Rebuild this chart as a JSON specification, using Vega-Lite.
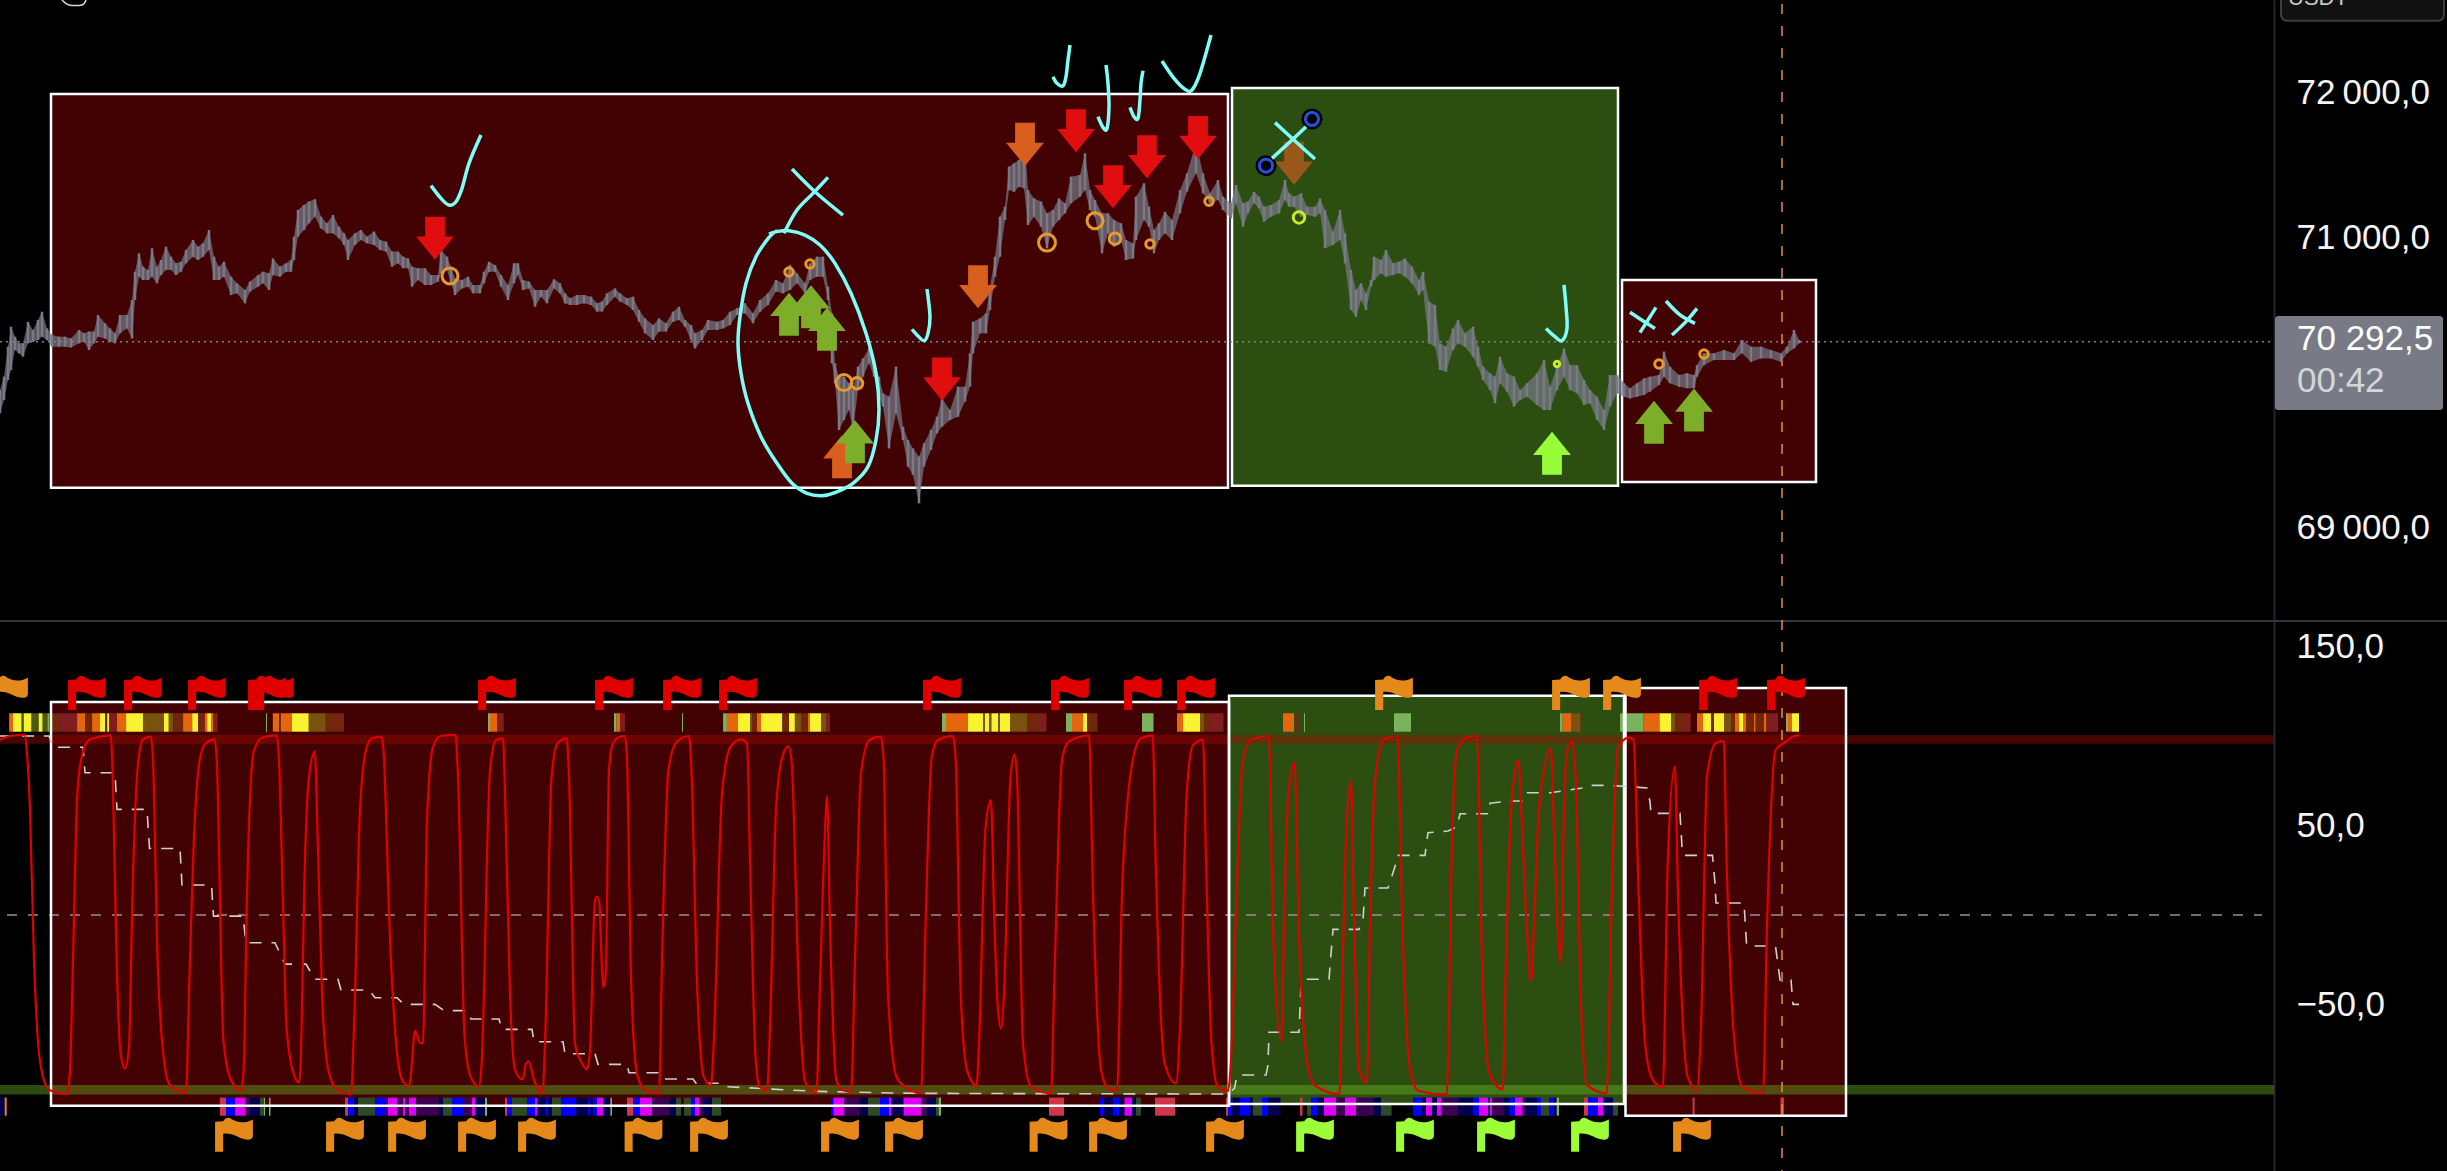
{
"$schema":"https://vega.github.io/schema/vega-lite/v6.json",
"background":"#000000","padding":{"left":-5,"top":0,"right":0,"bottom":0},"spacing":0,"bounds":"flush",
"config":{"view":{"stroke":null}},
"datasets":{
"boxesTop":[{"t":51,"t2":1228,"v":71989,"v2":69273,"k":"bear"},{"t":1232,"t2":1618,"v":72031,"v2":69287,"k":"bull"},{"t":1622,"t2":1816,"v":70706,"v2":69312,"k":"bear"}],
"lastPrice":[{"t":0,"t2":2274,"v":70280}],
"cursorTop":[{"t":1782,"v":72610,"v2":68360}],
"price":[{"t":0,"v":69786,"h":69947},{"t":4,"v":69878,"h":70039},{"t":8,"v":70016,"h":70246},{"t":11,"v":70085,"h":70384},{"t":15,"v":70223,"h":70315},{"t":19,"v":70200,"h":70269},{"t":23,"v":70177,"h":70269},{"t":28,"v":70269,"h":70418},{"t":33,"v":70280,"h":70361},{"t":38,"v":70292,"h":70430},{"t":42,"v":70315,"h":70487},{"t":47,"v":70292,"h":70372},{"t":52,"v":70246,"h":70327},{"t":59,"v":70246,"h":70315},{"t":65,"v":70246,"h":70315},{"t":71,"v":70241,"h":70303},{"t":79,"v":70269,"h":70361},{"t":84,"v":70280,"h":70338},{"t":89,"v":70223,"h":70350},{"t":94,"v":70269,"h":70350},{"t":98,"v":70315,"h":70464},{"t":105,"v":70303,"h":70407},{"t":110,"v":70280,"h":70372},{"t":115,"v":70269,"h":70338},{"t":120,"v":70338,"h":70464},{"t":127,"v":70372,"h":70464},{"t":132,"v":70303,"h":70568},{"t":135,"v":70568,"h":70763},{"t":139,"v":70729,"h":70890},{"t":143,"v":70706,"h":70798},{"t":148,"v":70706,"h":70775},{"t":152,"v":70729,"h":70925},{"t":157,"v":70683,"h":70798},{"t":161,"v":70740,"h":70844},{"t":166,"v":70775,"h":70936},{"t":171,"v":70775,"h":70867},{"t":176,"v":70740,"h":70821},{"t":181,"v":70763,"h":70832},{"t":186,"v":70821,"h":70913},{"t":193,"v":70867,"h":70982},{"t":198,"v":70844,"h":70936},{"t":203,"v":70867,"h":70959},{"t":209,"v":70913,"h":71051},{"t":214,"v":70706,"h":70867},{"t":219,"v":70706,"h":70798},{"t":224,"v":70729,"h":70832},{"t":231,"v":70602,"h":70729},{"t":237,"v":70614,"h":70683},{"t":245,"v":70545,"h":70637},{"t":250,"v":70626,"h":70695},{"t":258,"v":70660,"h":70740},{"t":263,"v":70683,"h":70763},{"t":269,"v":70637,"h":70752},{"t":273,"v":70740,"h":70855},{"t":280,"v":70729,"h":70798},{"t":286,"v":70763,"h":70821},{"t":291,"v":70763,"h":70844},{"t":294,"v":70844,"h":71005},{"t":298,"v":71005,"h":71189},{"t":304,"v":71051,"h":71224},{"t":309,"v":71097,"h":71247},{"t":315,"v":71143,"h":71263},{"t":321,"v":71062,"h":71143},{"t":327,"v":71028,"h":71097},{"t":333,"v":71028,"h":71154},{"t":339,"v":70994,"h":71074},{"t":344,"v":70948,"h":71028},{"t":348,"v":70844,"h":70982},{"t":355,"v":70948,"h":71028},{"t":361,"v":70982,"h":71051},{"t":367,"v":70959,"h":71005},{"t":374,"v":70948,"h":71040},{"t":380,"v":70913,"h":70982},{"t":386,"v":70902,"h":70971},{"t":392,"v":70798,"h":70902},{"t":398,"v":70821,"h":70902},{"t":403,"v":70787,"h":70867},{"t":408,"v":70787,"h":70855},{"t":412,"v":70660,"h":70798},{"t":418,"v":70706,"h":70787},{"t":425,"v":70671,"h":70787},{"t":431,"v":70671,"h":70740},{"t":438,"v":70694,"h":70740},{"t":441,"v":70752,"h":70913},{"t":447,"v":70775,"h":70867},{"t":451,"v":70683,"h":70798},{"t":455,"v":70602,"h":70717},{"t":462,"v":70648,"h":70706},{"t":468,"v":70660,"h":70729},{"t":473,"v":70614,"h":70671},{"t":480,"v":70614,"h":70671},{"t":484,"v":70683,"h":70763},{"t":489,"v":70763,"h":70832},{"t":495,"v":70763,"h":70809},{"t":501,"v":70660,"h":70740},{"t":508,"v":70568,"h":70671},{"t":514,"v":70683,"h":70821},{"t":518,"v":70740,"h":70821},{"t":523,"v":70637,"h":70706},{"t":529,"v":70648,"h":70695},{"t":535,"v":70522,"h":70637},{"t":541,"v":70591,"h":70637},{"t":547,"v":70545,"h":70637},{"t":554,"v":70648,"h":70711},{"t":560,"v":70614,"h":70683},{"t":565,"v":70545,"h":70614},{"t":570,"v":70534,"h":70580},{"t":577,"v":70534,"h":70602},{"t":584,"v":70545,"h":70602},{"t":591,"v":70534,"h":70591},{"t":597,"v":70488,"h":70545},{"t":602,"v":70488,"h":70557},{"t":607,"v":70534,"h":70614},{"t":615,"v":70591,"h":70648},{"t":620,"v":70557,"h":70614},{"t":627,"v":70534,"h":70580},{"t":633,"v":70499,"h":70591},{"t":639,"v":70418,"h":70499},{"t":645,"v":70338,"h":70441},{"t":653,"v":70292,"h":70395},{"t":659,"v":70350,"h":70441},{"t":666,"v":70350,"h":70407},{"t":673,"v":70418,"h":70487},{"t":679,"v":70430,"h":70522},{"t":685,"v":70384,"h":70430},{"t":691,"v":70292,"h":70395},{"t":695,"v":70234,"h":70338},{"t":702,"v":70292,"h":70361},{"t":708,"v":70361,"h":70430},{"t":717,"v":70361,"h":70418},{"t":723,"v":70372,"h":70430},{"t":730,"v":70395,"h":70487},{"t":737,"v":70464,"h":70510},{"t":745,"v":70476,"h":70545},{"t":753,"v":70407,"h":70476},{"t":760,"v":70487,"h":70568},{"t":768,"v":70534,"h":70614},{"t":776,"v":70626,"h":70706},{"t":783,"v":70614,"h":70683},{"t":790,"v":70637,"h":70810},{"t":797,"v":70683,"h":70752},{"t":805,"v":70614,"h":70683},{"t":810,"v":70706,"h":70821},{"t":817,"v":70729,"h":70867},{"t":823,"v":70729,"h":70867},{"t":828,"v":70568,"h":70660},{"t":832,"v":70131,"h":70476},{"t":835,"v":69993,"h":70131},{"t":839,"v":69671,"h":70039},{"t":844,"v":69740,"h":70039},{"t":849,"v":69809,"h":69993},{"t":853,"v":69671,"h":69947},{"t":858,"v":69947,"h":70108},{"t":863,"v":70039,"h":70165},{"t":869,"v":70131,"h":70234},{"t":874,"v":70039,"h":70154},{"t":879,"v":69901,"h":70039},{"t":883,"v":69832,"h":69924},{"t":889,"v":69544,"h":69901},{"t":896,"v":69786,"h":70108},{"t":903,"v":69602,"h":69694},{"t":908,"v":69418,"h":69602},{"t":913,"v":69361,"h":69544},{"t":919,"v":69165,"h":69487},{"t":924,"v":69418,"h":69579},{"t":931,"v":69533,"h":69671},{"t":937,"v":69648,"h":69763},{"t":942,"v":69694,"h":69889},{"t":950,"v":69740,"h":69809},{"t":958,"v":69763,"h":69970},{"t":965,"v":69867,"h":69970},{"t":970,"v":69970,"h":70200},{"t":973,"v":70200,"h":70418},{"t":980,"v":70338,"h":70441},{"t":986,"v":70338,"h":70476},{"t":990,"v":70499,"h":70660},{"t":995,"v":70729,"h":70867},{"t":1000,"v":70867,"h":71143},{"t":1005,"v":71120,"h":71212},{"t":1009,"v":71327,"h":71488},{"t":1014,"v":71315,"h":71511},{"t":1019,"v":71350,"h":71534},{"t":1024,"v":71339,"h":71741},{"t":1028,"v":71085,"h":71327},{"t":1034,"v":71143,"h":71269},{"t":1041,"v":71074,"h":71247},{"t":1047,"v":70925,"h":71166},{"t":1053,"v":71074,"h":71189},{"t":1059,"v":71120,"h":71269},{"t":1065,"v":71166,"h":71235},{"t":1071,"v":71235,"h":71419},{"t":1080,"v":71281,"h":71430},{"t":1085,"v":71327,"h":71580},{"t":1090,"v":71189,"h":71327},{"t":1095,"v":71143,"h":71258},{"t":1102,"v":70890,"h":71166},{"t":1108,"v":71028,"h":71166},{"t":1114,"v":70936,"h":71120},{"t":1121,"v":70982,"h":71097},{"t":1126,"v":70844,"h":70982},{"t":1133,"v":70855,"h":70959},{"t":1136,"v":70982,"h":71281},{"t":1144,"v":71120,"h":71373},{"t":1149,"v":71074,"h":71212},{"t":1154,"v":70890,"h":71051},{"t":1159,"v":70982,"h":71097},{"t":1165,"v":71028,"h":71177},{"t":1172,"v":70982,"h":71120},{"t":1180,"v":71166,"h":71327},{"t":1187,"v":71315,"h":71442},{"t":1196,"v":71442,"h":71649},{"t":1203,"v":71304,"h":71442},{"t":1210,"v":71235,"h":71304},{"t":1218,"v":71258,"h":71396},{"t":1223,"v":71189,"h":71281},{"t":1231,"v":71131,"h":71235},{"t":1236,"v":71235,"h":71361},{"t":1243,"v":71074,"h":71235},{"t":1248,"v":71166,"h":71247},{"t":1254,"v":71235,"h":71315},{"t":1259,"v":71200,"h":71281},{"t":1264,"v":71108,"h":71212},{"t":1271,"v":71143,"h":71224},{"t":1279,"v":71166,"h":71258},{"t":1285,"v":71258,"h":71396},{"t":1289,"v":71212,"h":71304},{"t":1294,"v":71212,"h":71281},{"t":1301,"v":71143,"h":71304},{"t":1307,"v":71155,"h":71212},{"t":1315,"v":71143,"h":71212},{"t":1320,"v":71166,"h":71269},{"t":1325,"v":70925,"h":71189},{"t":1333,"v":70948,"h":71040},{"t":1340,"v":70982,"h":71189},{"t":1345,"v":70821,"h":71028},{"t":1351,"v":70499,"h":70775},{"t":1356,"v":70453,"h":70637},{"t":1361,"v":70568,"h":70683},{"t":1366,"v":70499,"h":70614},{"t":1371,"v":70660,"h":70706},{"t":1374,"v":70706,"h":70867},{"t":1381,"v":70752,"h":70844},{"t":1386,"v":70729,"h":70913},{"t":1393,"v":70740,"h":70821},{"t":1399,"v":70752,"h":70832},{"t":1405,"v":70729,"h":70855},{"t":1412,"v":70683,"h":70798},{"t":1419,"v":70602,"h":70706},{"t":1423,"v":70637,"h":70763},{"t":1429,"v":70269,"h":70556},{"t":1435,"v":70246,"h":70534},{"t":1440,"v":70085,"h":70269},{"t":1446,"v":70074,"h":70246},{"t":1453,"v":70223,"h":70372},{"t":1458,"v":70269,"h":70430},{"t":1465,"v":70246,"h":70338},{"t":1473,"v":70177,"h":70384},{"t":1478,"v":70108,"h":70246},{"t":1483,"v":70016,"h":70108},{"t":1490,"v":69947,"h":70062},{"t":1495,"v":69855,"h":70039},{"t":1500,"v":69993,"h":70177},{"t":1507,"v":69936,"h":70062},{"t":1514,"v":69832,"h":70039},{"t":1520,"v":69878,"h":69947},{"t":1527,"v":69901,"h":69993},{"t":1537,"v":69844,"h":70062},{"t":1544,"v":69809,"h":70154},{"t":1550,"v":69809,"h":69970},{"t":1557,"v":69947,"h":70108},{"t":1564,"v":70039,"h":70234},{"t":1570,"v":69947,"h":70119},{"t":1577,"v":69924,"h":70119},{"t":1584,"v":69844,"h":70016},{"t":1590,"v":69855,"h":69947},{"t":1597,"v":69740,"h":69901},{"t":1604,"v":69671,"h":69809},{"t":1610,"v":69832,"h":70050},{"t":1617,"v":69924,"h":70050},{"t":1624,"v":69901,"h":69993},{"t":1630,"v":69889,"h":69959},{"t":1637,"v":69901,"h":69993},{"t":1644,"v":69913,"h":70027},{"t":1650,"v":69936,"h":70039},{"t":1659,"v":69982,"h":70050},{"t":1664,"v":70039,"h":70212},{"t":1670,"v":69993,"h":70108},{"t":1679,"v":69970,"h":70050},{"t":1687,"v":69959,"h":70062},{"t":1694,"v":69959,"h":70050},{"t":1697,"v":70039,"h":70119},{"t":1704,"v":70119,"h":70200},{"t":1714,"v":70154,"h":70200},{"t":1724,"v":70154,"h":70223},{"t":1734,"v":70154,"h":70200},{"t":1742,"v":70200,"h":70292},{"t":1751,"v":70142,"h":70246},{"t":1761,"v":70165,"h":70246},{"t":1771,"v":70165,"h":70223},{"t":1781,"v":70142,"h":70200},{"t":1787,"v":70200,"h":70246},{"t":1794,"v":70234,"h":70361},{"t":1799,"v":70269,"h":70292}],
"arrows":[{"t":435,"v":70994,"d":"down","k":"sell"},{"t":1025,"v":71642,"d":"down","k":"weak"},{"t":978,"v":70660,"d":"down","k":"weak"},{"t":1076,"v":71736,"d":"down","k":"sell"},{"t":1113,"v":71350,"d":"down","k":"sell"},{"t":1147,"v":71557,"d":"down","k":"sell"},{"t":1198,"v":71690,"d":"down","k":"sell"},{"t":942,"v":70023,"d":"down","k":"sell"},{"t":1294,"v":71511,"d":"down","k":"brown"},{"t":789,"v":70469,"d":"up","k":"buy"},{"t":811,"v":70522,"d":"up","k":"buy"},{"t":827,"v":70366,"d":"up","k":"buy"},{"t":842,"v":69487,"d":"up","k":"weak"},{"t":855,"v":69590,"d":"up","k":"buy"},{"t":1552,"v":69510,"d":"up","k":"strong"},{"t":1654,"v":69724,"d":"up","k":"buy"},{"t":1694,"v":69809,"d":"up","k":"buy"}],
"rings":[{"t":450,"v":70734,"r":"l","k":"o"},{"t":789,"v":70761,"r":"s","k":"o"},{"t":810,"v":70816,"r":"s","k":"o"},{"t":844,"v":69998,"r":"l","k":"o"},{"t":857,"v":69993,"r":"m","k":"o"},{"t":1047,"v":70964,"r":"xl","k":"o"},{"t":1095,"v":71115,"r":"l","k":"o"},{"t":1115,"v":70991,"r":"m","k":"o"},{"t":1150,"v":70954,"r":"s","k":"o"},{"t":1209,"v":71249,"r":"s","k":"o"},{"t":1299,"v":71138,"r":"m","k":"y"},{"t":1557,"v":70126,"r":"xs","k":"y"},{"t":1659,"v":70126,"r":"s","k":"o"},{"t":1704,"v":70195,"r":"s","k":"o"}],
"blueDots":[{"t":1266,"v":71495},{"t":1312,"v":71817}],
"ink":[
{"s":"a","i":0,"t":431,"v":71357},{"s":"a","i":1,"t":441,"v":71269},{"s":"a","i":2,"t":449,"v":71223},{"s":"a","i":3,"t":456,"v":71246},{"s":"a","i":4,"t":462,"v":71338},{"s":"a","i":5,"t":469,"v":71511},{"s":"a","i":6,"t":481,"v":71706},
{"s":"e","i":0,"t":769,"v":71023},{"s":"e","i":1,"t":777,"v":71040},{"s":"e","i":2,"t":789,"v":71046},{"s":"e","i":3,"t":805,"v":71016},{"s":"e","i":4,"t":820,"v":70947},{"s":"e","i":5,"t":835,"v":70821},{"s":"e","i":6,"t":851,"v":70614},{"s":"e","i":7,"t":866,"v":70338},{"s":"e","i":8,"t":876,"v":70062},{"s":"e","i":9,"t":879,"v":69809},{"s":"e","i":10,"t":876,"v":69602},{"s":"e","i":11,"t":868,"v":69418},{"s":"e","i":12,"t":853,"v":69303},{"s":"e","i":13,"t":835,"v":69239},{"s":"e","i":14,"t":822,"v":69218},{"s":"e","i":15,"t":807,"v":69234},{"s":"e","i":16,"t":792,"v":69303},{"s":"e","i":17,"t":777,"v":69441},{"s":"e","i":18,"t":761,"v":69625},{"s":"e","i":19,"t":748,"v":69855},{"s":"e","i":20,"t":741,"v":70062},{"s":"e","i":21,"t":738,"v":70269},{"s":"e","i":22,"t":740,"v":70453},{"s":"e","i":23,"t":746,"v":70683},{"s":"e","i":24,"t":756,"v":70867},{"s":"e","i":25,"t":769,"v":71000},{"s":"e","i":26,"t":777,"v":71046},
{"s":"x1","i":0,"t":792,"v":71472},{"s":"x1","i":1,"t":815,"v":71315},{"s":"x1","i":2,"t":843,"v":71154},
{"s":"x2","i":0,"t":828,"v":71414},{"s":"x2","i":1,"t":813,"v":71304},{"s":"x2","i":2,"t":797,"v":71189},{"s":"x2","i":3,"t":784,"v":71028},
{"s":"j1","i":0,"t":912,"v":70366},{"s":"j1","i":1,"t":917,"v":70327},{"s":"j1","i":2,"t":924,"v":70287},{"s":"j1","i":3,"t":928,"v":70338},{"s":"j1","i":4,"t":930,"v":70453},{"s":"j1","i":5,"t":927,"v":70644},
{"s":"j2","i":0,"t":1053,"v":72109},{"s":"j2","i":1,"t":1057,"v":72063},{"s":"j2","i":2,"t":1063,"v":72045},{"s":"j2","i":3,"t":1066,"v":72109},{"s":"j2","i":4,"t":1068,"v":72224},{"s":"j2","i":5,"t":1070,"v":72327},
{"s":"j3","i":0,"t":1098,"v":71833},{"s":"j3","i":1,"t":1103,"v":71759},{"s":"j3","i":2,"t":1107,"v":71752},{"s":"j3","i":3,"t":1109,"v":71902},{"s":"j3","i":4,"t":1108,"v":72063},{"s":"j3","i":5,"t":1106,"v":72189},
{"s":"j4","i":0,"t":1130,"v":71897},{"s":"j4","i":1,"t":1134,"v":71833},{"s":"j4","i":2,"t":1138,"v":71821},{"s":"j4","i":3,"t":1140,"v":71948},{"s":"j4","i":4,"t":1141,"v":72063},{"s":"j4","i":5,"t":1143,"v":72150},
{"s":"v","i":0,"t":1162,"v":72217},{"s":"v","i":1,"t":1174,"v":72097},{"s":"v","i":2,"t":1185,"v":72022},{"s":"v","i":3,"t":1192,"v":72017},{"s":"v","i":4,"t":1200,"v":72132},{"s":"v","i":5,"t":1211,"v":72396},
{"s":"x3","i":0,"t":1275,"v":71792},{"s":"x3","i":1,"t":1294,"v":71672},{"s":"x3","i":2,"t":1315,"v":71541},
{"s":"x4","i":0,"t":1306,"v":71764},{"s":"x4","i":1,"t":1292,"v":71672},{"s":"x4","i":2,"t":1272,"v":71545},
{"s":"j5","i":0,"t":1546,"v":70372},{"s":"j5","i":1,"t":1555,"v":70315},{"s":"j5","i":2,"t":1562,"v":70287},{"s":"j5","i":3,"t":1567,"v":70372},{"s":"j5","i":4,"t":1566,"v":70522},{"s":"j5","i":5,"t":1564,"v":70672},
{"s":"x5","i":0,"t":1630,"v":70483},{"s":"x5","i":1,"t":1644,"v":70419},{"s":"x5","i":2,"t":1655,"v":70372},
{"s":"x6","i":0,"t":1656,"v":70517},{"s":"x6","i":1,"t":1648,"v":70430},{"s":"x6","i":2,"t":1640,"v":70343},
{"s":"x7","i":0,"t":1666,"v":70561},{"s":"x7","i":1,"t":1680,"v":70465},{"s":"x7","i":2,"t":1695,"v":70407},
{"s":"x8","i":0,"t":1697,"v":70510},{"s":"x8","i":1,"t":1686,"v":70419},{"s":"x8","i":2,"t":1672,"v":70326}],
"curl":[{"i":0,"t":62,"v":72638},{"i":1,"t":69,"v":72604},{"i":2,"t":82,"v":72604},{"i":3,"t":86,"v":72638}],
"priceTag":[{"t":2275,"t2":2443,"v":70458,"v2":69809}],
"usdBox":[{"t":2281,"t2":2444,"v":72680,"v2":72495}],
"usdText":[{"t":2288,"v":72603,"label":"USDT"}],
"tagPrice":[{"t":2297,"v":70299,"label":"70 292,5"}],
"tagTime":[{"t":2297,"v":70009,"label":"00:42"}],
"boxesBot":[{"t":51,"t2":1229,"v":119,"v2":-106.5,"k":"bear"},{"t":1229,"t2":1624,"v":122.5,"v2":-105.6,"k":"bull"},{"t":1625.5,"t2":1846,"v":126.8,"v2":-112.1,"k":"bear"}],
"bands":[{"t":0,"t2":2274,"v":100.6,"v2":95.7,"k":"upper"},{"t":0,"t2":2274,"v":-95,"v2":-100.2,"k":"lower"}],
"midLine":[{"t":7,"t2":2262,"v":0}],
"sepLine":[{"t":0,"t2":2447,"v":164.3}],
"cursorBot":[{"t":1782,"v":164.8,"v2":-145}],
"heatLane":[{"k":"y","v":112.7,"v2":102.4},{"k":"o","v":112.7,"v2":102.4},{"k":"u","v":112.7,"v2":102.4},{"k":"b","v":112.7,"v2":102.4},{"k":"c","v":112.7,"v2":102.4},{"k":"l","v":112.7,"v2":102.4},{"k":"g","v":112.7,"v2":102.4}],
"flowLane":[{"k":"b","v":-102,"v2":-112.1},{"k":"m","v":-102,"v2":-112.1},{"k":"p","v":-102,"v2":-112.1},{"k":"n","v":-102,"v2":-112.1},{"k":"d","v":-102,"v2":-112.1},{"k":"r","v":-102,"v2":-112.1},{"k":"g","v":-102,"v2":-112.1},{"k":"o","v":-102,"v2":-112.1}],
"heat":[{"t":9.1,"t2":13,"k":"o"},{"t":13,"t2":21.7,"k":"y"},{"t":21.7,"t2":23.7,"k":"l"},{"t":23.7,"t2":31.6,"k":"y"},{"t":31.6,"t2":38.7,"k":"l"},{"t":38.7,"t2":42.7,"k":"y"},{"t":42.7,"t2":47.4,"k":"l"},{"t":47.4,"t2":49.4,"k":"g"},{"t":49.4,"t2":60.1,"k":"b"},{"t":60.1,"t2":77.1,"k":"c"},{"t":77.1,"t2":85,"k":"o"},{"t":85,"t2":92.1,"k":"b"},{"t":92.1,"t2":100,"k":"o"},{"t":100,"t2":105.2,"k":"y"},{"t":105.2,"t2":107.2,"k":"b"},{"t":107.2,"t2":109.1,"k":"y"},{"t":109.1,"t2":117,"k":"c"},{"t":117,"t2":126.1,"k":"o"},{"t":126.1,"t2":143.1,"k":"y"},{"t":143.1,"t2":164,"k":"u"},{"t":164,"t2":168.8,"k":"y"},{"t":168.8,"t2":173.2,"k":"u"},{"t":173.2,"t2":183.1,"k":"b"},{"t":183.1,"t2":192.2,"k":"o"},{"t":192.2,"t2":198.1,"k":"y"},{"t":198.1,"t2":204.8,"k":"b"},{"t":204.8,"t2":207.2,"k":"o"},{"t":207.2,"t2":211.5,"k":"y"},{"t":211.5,"t2":213.5,"k":"o"},{"t":213.5,"t2":217.5,"k":"c"},{"t":266,"t2":267,"k":"g"},{"t":272.8,"t2":279.2,"k":"o"},{"t":279.2,"t2":281,"k":"b"},{"t":281,"t2":291.8,"k":"o"},{"t":291.8,"t2":308.8,"k":"y"},{"t":308.8,"t2":325.8,"k":"u"},{"t":325.8,"t2":342,"k":"b"},{"t":342,"t2":344,"k":"c"},{"t":488,"t2":490,"k":"g"},{"t":490,"t2":497,"k":"o"},{"t":497,"t2":503.7,"k":"c"},{"t":614,"t2":616.6,"k":"g"},{"t":616.6,"t2":620,"k":"o"},{"t":620,"t2":625,"k":"c"},{"t":682,"t2":683,"k":"g"},{"t":723.1,"t2":726.9,"k":"g"},{"t":726.9,"t2":738,"k":"o"},{"t":738,"t2":750,"k":"y"},{"t":750,"t2":752,"k":"u"},{"t":752,"t2":757,"k":"b"},{"t":757,"t2":761,"k":"o"},{"t":761,"t2":782.4,"k":"y"},{"t":782.4,"t2":789,"k":"b"},{"t":789,"t2":794.9,"k":"y"},{"t":794.9,"t2":801,"k":"u"},{"t":801,"t2":808,"k":"b"},{"t":808,"t2":809.8,"k":"o"},{"t":809.8,"t2":821,"k":"y"},{"t":821,"t2":826,"k":"u"},{"t":826,"t2":830,"k":"c"},{"t":942,"t2":946,"k":"g"},{"t":946,"t2":968,"k":"o"},{"t":968,"t2":983,"k":"y"},{"t":983,"t2":985,"k":"u"},{"t":985,"t2":989.3,"k":"y"},{"t":989.3,"t2":991.4,"k":"u"},{"t":991.4,"t2":998,"k":"y"},{"t":998,"t2":1000,"k":"u"},{"t":1000,"t2":1010,"k":"y"},{"t":1010,"t2":1027,"k":"u"},{"t":1027,"t2":1040,"k":"b"},{"t":1040,"t2":1046.5,"k":"c"},{"t":1066,"t2":1072,"k":"g"},{"t":1072,"t2":1083,"k":"o"},{"t":1083,"t2":1087,"k":"y"},{"t":1087,"t2":1097.5,"k":"b"},{"t":1142,"t2":1153.5,"k":"g"},{"t":1177,"t2":1183,"k":"o"},{"t":1183,"t2":1200,"k":"y"},{"t":1200,"t2":1204.5,"k":"u"},{"t":1204.5,"t2":1210,"k":"b"},{"t":1210,"t2":1223.5,"k":"c"},{"t":1283,"t2":1294,"k":"o"},{"t":1296.7,"t2":1299,"k":"c"},{"t":1304,"t2":1305,"k":"g"},{"t":1394,"t2":1411,"k":"g"},{"t":1560,"t2":1562.5,"k":"g"},{"t":1562.5,"t2":1571,"k":"o"},{"t":1571,"t2":1580.7,"k":"u"},{"t":1580.7,"t2":1582,"k":"c"},{"t":1620,"t2":1643.7,"k":"g"},{"t":1643.7,"t2":1659.5,"k":"o"},{"t":1659.5,"t2":1671,"k":"y"},{"t":1671,"t2":1675,"k":"u"},{"t":1675,"t2":1685,"k":"b"},{"t":1685,"t2":1690.6,"k":"c"},{"t":1697,"t2":1703,"k":"o"},{"t":1703,"t2":1711,"k":"y"},{"t":1711,"t2":1714,"k":"b"},{"t":1714,"t2":1724,"k":"y"},{"t":1724,"t2":1731.6,"k":"u"},{"t":1731.6,"t2":1735,"k":"b"},{"t":1735,"t2":1739,"k":"o"},{"t":1739,"t2":1743,"k":"y"},{"t":1743,"t2":1746,"k":"o"},{"t":1746,"t2":1754,"k":"b"},{"t":1754,"t2":1755.7,"k":"o"},{"t":1755.7,"t2":1764,"k":"b"},{"t":1764,"t2":1766.5,"k":"o"},{"t":1766.5,"t2":1778,"k":"c"},{"t":1786,"t2":1788,"k":"g"},{"t":1788,"t2":1792,"k":"o"},{"t":1792,"t2":1799,"k":"y"}],
"flow":[{"t":0,"t2":4.7,"k":"n"},{"t":4.7,"t2":6.7,"k":"o"},{"t":219.8,"t2":226,"k":"r"},{"t":226,"t2":235,"k":"b"},{"t":235,"t2":245,"k":"m"},{"t":245,"t2":250,"k":"p"},{"t":250,"t2":260,"k":"n"},{"t":260,"t2":264,"k":"d"},{"t":264,"t2":265,"k":"g"},{"t":269,"t2":270.5,"k":"g"},{"t":345,"t2":348,"k":"r"},{"t":348,"t2":354,"k":"b"},{"t":354,"t2":358,"k":"n"},{"t":358,"t2":375,"k":"d"},{"t":375,"t2":386,"k":"b"},{"t":386,"t2":388,"k":"p"},{"t":388,"t2":397,"k":"m"},{"t":397,"t2":403,"k":"p"},{"t":403,"t2":405,"k":"m"},{"t":405,"t2":409,"k":"p"},{"t":409,"t2":416,"k":"m"},{"t":416,"t2":439,"k":"p"},{"t":439,"t2":443,"k":"n"},{"t":443,"t2":452,"k":"d"},{"t":452,"t2":463,"k":"b"},{"t":463,"t2":472,"k":"p"},{"t":472,"t2":475,"k":"m"},{"t":475,"t2":485,"k":"n"},{"t":485,"t2":487,"k":"g"},{"t":505,"t2":507,"k":"r"},{"t":507,"t2":512,"k":"b"},{"t":512,"t2":527,"k":"d"},{"t":527,"t2":535,"k":"b"},{"t":535,"t2":537,"k":"m"},{"t":537,"t2":546,"k":"n"},{"t":546,"t2":548,"k":"b"},{"t":548,"t2":552,"k":"n"},{"t":552,"t2":561,"k":"d"},{"t":561,"t2":576.5,"k":"b"},{"t":576.5,"t2":588,"k":"n"},{"t":588,"t2":590,"k":"b"},{"t":590,"t2":593,"k":"n"},{"t":593,"t2":597,"k":"b"},{"t":597,"t2":603,"k":"m"},{"t":603,"t2":610.4,"k":"n"},{"t":610.4,"t2":612,"k":"g"},{"t":627,"t2":633,"k":"r"},{"t":633,"t2":640,"k":"b"},{"t":640,"t2":652,"k":"m"},{"t":652,"t2":669,"k":"p"},{"t":669,"t2":676,"k":"n"},{"t":676,"t2":681,"k":"d"},{"t":684,"t2":691,"k":"d"},{"t":691,"t2":695,"k":"b"},{"t":695,"t2":699.5,"k":"m"},{"t":699.5,"t2":703,"k":"p"},{"t":703,"t2":712,"k":"n"},{"t":712,"t2":721,"k":"d"},{"t":831,"t2":833.4,"k":"b"},{"t":833.4,"t2":844.6,"k":"m"},{"t":844.6,"t2":859,"k":"p"},{"t":859,"t2":868,"k":"n"},{"t":868,"t2":880,"k":"d"},{"t":880,"t2":889,"k":"b"},{"t":889,"t2":891.5,"k":"m"},{"t":891.5,"t2":903.5,"k":"n"},{"t":903.5,"t2":921,"k":"m"},{"t":921,"t2":927,"k":"p"},{"t":927,"t2":936,"k":"n"},{"t":936,"t2":938.7,"k":"d"},{"t":938.7,"t2":941,"k":"g"},{"t":1049,"t2":1064,"k":"r"},{"t":1100,"t2":1104,"k":"b"},{"t":1104,"t2":1113,"k":"n"},{"t":1113,"t2":1119.5,"k":"b"},{"t":1119.5,"t2":1124.5,"k":"n"},{"t":1124.5,"t2":1132,"k":"m"},{"t":1132,"t2":1136,"k":"n"},{"t":1136,"t2":1141,"k":"d"},{"t":1155,"t2":1175,"k":"r"},{"t":1226,"t2":1228,"k":"r"},{"t":1228,"t2":1232.4,"k":"b"},{"t":1232.4,"t2":1240,"k":"n"},{"t":1240,"t2":1249,"k":"b"},{"t":1249,"t2":1253,"k":"n"},{"t":1253,"t2":1262,"k":"d"},{"t":1262,"t2":1268,"k":"b"},{"t":1268,"t2":1280.5,"k":"n"},{"t":1300,"t2":1302.5,"k":"r"},{"t":1307,"t2":1311,"k":"d"},{"t":1311,"t2":1317,"k":"b"},{"t":1317,"t2":1324,"k":"n"},{"t":1324,"t2":1336,"k":"m"},{"t":1336,"t2":1345,"k":"p"},{"t":1345,"t2":1356,"k":"m"},{"t":1356,"t2":1373,"k":"p"},{"t":1373,"t2":1381,"k":"n"},{"t":1381,"t2":1391.6,"k":"d"},{"t":1413,"t2":1422,"k":"b"},{"t":1422,"t2":1426,"k":"n"},{"t":1426,"t2":1432,"k":"m"},{"t":1432,"t2":1437,"k":"n"},{"t":1437,"t2":1441,"k":"m"},{"t":1441,"t2":1458,"k":"p"},{"t":1458,"t2":1473,"k":"n"},{"t":1473,"t2":1479,"k":"b"},{"t":1479,"t2":1488,"k":"m"},{"t":1488,"t2":1490,"k":"n"},{"t":1490,"t2":1492,"k":"m"},{"t":1492,"t2":1503.6,"k":"p"},{"t":1503.6,"t2":1509,"k":"n"},{"t":1509,"t2":1515,"k":"b"},{"t":1515,"t2":1522.7,"k":"m"},{"t":1522.7,"t2":1526,"k":"p"},{"t":1526,"t2":1537,"k":"n"},{"t":1537,"t2":1541,"k":"b"},{"t":1541,"t2":1549,"k":"d"},{"t":1549,"t2":1554,"k":"b"},{"t":1554,"t2":1556.7,"k":"n"},{"t":1556.7,"t2":1559,"k":"g"},{"t":1584,"t2":1588,"k":"r"},{"t":1588,"t2":1598,"k":"b"},{"t":1598,"t2":1603,"k":"m"},{"t":1603,"t2":1613,"k":"n"},{"t":1613,"t2":1618,"k":"d"},{"t":1692.6,"t2":1694.6,"k":"r"},{"t":1780.5,"t2":1784,"k":"r"}],
"signal":[{"t":0,"v":100},{"t":49,"v":100},{"t":53,"v":93.7},{"t":83,"v":93.7},{"t":85,"v":79.5},{"t":115,"v":79.5},{"t":117,"v":59},{"t":147,"v":59},{"t":149.5,"v":37.2},{"t":180,"v":37.2},{"t":182,"v":16.8},{"t":211.5,"v":16.8},{"t":213.5,"v":-0.6},{"t":243,"v":-0.6},{"t":246,"v":-15.5},{"t":275,"v":-15.5},{"t":285,"v":-27.4},{"t":306,"v":-27.4},{"t":315,"v":-35.9},{"t":338,"v":-35.9},{"t":341,"v":-41.9},{"t":369,"v":-41.9},{"t":375,"v":-46.2},{"t":397,"v":-46.2},{"t":404,"v":-49.9},{"t":435,"v":-49.9},{"t":444,"v":-53.4},{"t":467,"v":-53.4},{"t":471,"v":-58.1},{"t":499,"v":-58.1},{"t":502,"v":-63.9},{"t":532,"v":-63.9},{"t":534,"v":-70.8},{"t":563,"v":-70.8},{"t":565,"v":-77.5},{"t":595,"v":-77.5},{"t":598,"v":-83.4},{"t":627,"v":-83.4},{"t":629,"v":-88.1},{"t":658,"v":-88.1},{"t":662,"v":-91.6},{"t":693,"v":-91.6},{"t":696,"v":-94},{"t":722,"v":-94},{"t":726,"v":-95.9},{"t":757,"v":-96.8},{"t":789,"v":-97.8},{"t":818,"v":-98.5},{"t":849,"v":-98.9},{"t":882,"v":-99.3},{"t":919,"v":-99.6},{"t":1052,"v":-99.8},{"t":1228,"v":-100},{"t":1234.5,"v":-96.8},{"t":1237,"v":-89.4},{"t":1266,"v":-89.4},{"t":1268,"v":-83.8},{"t":1269,"v":-65.5},{"t":1299,"v":-65.5},{"t":1301,"v":-39.1},{"t":1303,"v":-35.9},{"t":1329,"v":-35.9},{"t":1333,"v":-8},{"t":1359,"v":-8},{"t":1363,"v":-2.8},{"t":1365,"v":15.1},{"t":1388,"v":15.1},{"t":1396,"v":28.9},{"t":1397,"v":33.3},{"t":1425,"v":33.3},{"t":1428,"v":46},{"t":1448,"v":46.9},{"t":1457,"v":49.3},{"t":1460,"v":56.6},{"t":1489,"v":56.6},{"t":1490,"v":62.4},{"t":1510,"v":63.7},{"t":1522,"v":63.7},{"t":1525,"v":68.3},{"t":1550,"v":68.3},{"t":1587,"v":71.3},{"t":1589,"v":72.4},{"t":1610,"v":72.4},{"t":1647,"v":71},{"t":1650,"v":63.3},{"t":1651,"v":56.8},{"t":1680,"v":56.8},{"t":1682,"v":38.2},{"t":1683.5,"v":33.3},{"t":1712.5,"v":33.3},{"t":1715,"v":17.7},{"t":1716,"v":6.7},{"t":1744,"v":6.7},{"t":1746.5,"v":-15.8},{"t":1747,"v":-17.3},{"t":1775.5,"v":-17.3},{"t":1780,"v":-36.3},{"t":1791,"v":-36.3},{"t":1793,"v":-49.9},{"t":1799,"v":-49.9}],
"osc":[{"t":0,"v":97.8},{"t":10,"v":100},{"t":24.5,"v":100.6},{"t":27,"v":90.3},{"t":30,"v":58.7},{"t":34,"v":-25.1},{"t":37.6,"v":-68},{"t":41.5,"v":-86.6},{"t":49.4,"v":-97.8},{"t":67,"v":-100},{"t":70,"v":-86.6},{"t":73,"v":-25.1},{"t":77,"v":64.2},{"t":81,"v":86.6},{"t":89,"v":97.8},{"t":97,"v":99.3},{"t":110.7,"v":100.4},{"t":112.7,"v":77.3},{"t":116.6,"v":-25.1},{"t":120.6,"v":-77.3},{"t":125,"v":-85.7},{"t":129,"v":-73.6},{"t":132.5,"v":12.1},{"t":138.4,"v":86.6},{"t":143,"v":98.1},{"t":151,"v":99.6},{"t":153,"v":86.6},{"t":157.4,"v":-21.4},{"t":164,"v":-81},{"t":170,"v":-95},{"t":186,"v":-99.3},{"t":189,"v":-43.8},{"t":193.7,"v":40},{"t":199.7,"v":86.6},{"t":205.6,"v":95.9},{"t":214.7,"v":98.1},{"t":216.7,"v":86.6},{"t":223.4,"v":-69.8},{"t":231,"v":-92.2},{"t":241,"v":-98.1},{"t":243.6,"v":-86.6},{"t":247,"v":12.1},{"t":253.9,"v":91.8},{"t":263,"v":99.3},{"t":276.8,"v":100.4},{"t":279,"v":86.6},{"t":282.7,"v":12.1},{"t":286.7,"v":-64.2},{"t":294.6,"v":-90.3},{"t":299.3,"v":-93.7},{"t":301,"v":-77.3},{"t":304.5,"v":21.4},{"t":309,"v":77.3},{"t":315,"v":91.4},{"t":316,"v":77.3},{"t":322,"v":-43.8},{"t":328,"v":-85.7},{"t":336,"v":-96.8},{"t":351,"v":-100},{"t":354,"v":-62.4},{"t":360,"v":58.7},{"t":366,"v":92.2},{"t":372,"v":98.7},{"t":381.5,"v":99.6},{"t":383.5,"v":92.2},{"t":389.5,"v":-6.5},{"t":397.4,"v":-79.1},{"t":403,"v":-93.1},{"t":409,"v":-95.5},{"t":411,"v":-88.5},{"t":415,"v":-64.6},{"t":420,"v":-71.3},{"t":423,"v":-71.7},{"t":427,"v":53},{"t":433,"v":94},{"t":441,"v":100},{"t":455.5,"v":100.6},{"t":458,"v":77.3},{"t":464.6,"v":-68},{"t":470.5,"v":-90.3},{"t":479,"v":-95.9},{"t":481.6,"v":-82.9},{"t":490,"v":81},{"t":496,"v":97.8},{"t":503,"v":98.7},{"t":505,"v":68},{"t":510,"v":-43.8},{"t":515,"v":-86.6},{"t":522.7,"v":-91.8},{"t":526,"v":-82.9},{"t":528.7,"v":-81.9},{"t":534,"v":-92.2},{"t":542.5,"v":-99.3},{"t":545,"v":-71.7},{"t":551.6,"v":77.3},{"t":557.5,"v":95.9},{"t":566.6,"v":98.7},{"t":569,"v":77.3},{"t":575,"v":-71.7},{"t":581,"v":-81.9},{"t":587,"v":-86.2},{"t":590,"v":-75.4},{"t":595,"v":8.4},{"t":597,"v":10.2},{"t":599.4,"v":6.5},{"t":601,"v":-15.8},{"t":603,"v":-40.4},{"t":605.8,"v":-32.6},{"t":609,"v":81},{"t":613,"v":95.9},{"t":620,"v":99.6},{"t":625,"v":100},{"t":627,"v":86.6},{"t":631,"v":-34.5},{"t":637,"v":-88.5},{"t":643.5,"v":-96.8},{"t":659,"v":-99.6},{"t":662,"v":-25.1},{"t":668.4,"v":81},{"t":676.7,"v":96.8},{"t":689,"v":100},{"t":691,"v":86.6},{"t":697.4,"v":-43.8},{"t":703.7,"v":-90.3},{"t":711,"v":-95.2},{"t":714,"v":-68},{"t":722,"v":68},{"t":730.6,"v":94},{"t":741,"v":98.1},{"t":747,"v":95.9},{"t":750,"v":30.7},{"t":755.5,"v":-79.1},{"t":759.6,"v":-95.9},{"t":767,"v":-98.1},{"t":770,"v":-62.4},{"t":776,"v":58.7},{"t":782.4,"v":88.5},{"t":788.6,"v":94.4},{"t":791.5,"v":86.6},{"t":799,"v":-43.8},{"t":805,"v":-93.1},{"t":816.4,"v":-99.3},{"t":819.7,"v":-43.8},{"t":826,"v":58.7},{"t":827,"v":66.5},{"t":830,"v":-6.5},{"t":836.3,"v":-92.2},{"t":842.5,"v":-97.8},{"t":851,"v":-98.9},{"t":855,"v":-25.1},{"t":861,"v":79.1},{"t":869.5,"v":97.8},{"t":881,"v":99.6},{"t":883.6,"v":86.6},{"t":888,"v":-43.8},{"t":896.4,"v":-90.3},{"t":904.7,"v":-95.9},{"t":921,"v":-99.3},{"t":925.5,"v":-6.5},{"t":931.7,"v":88.5},{"t":938,"v":97.8},{"t":953,"v":100},{"t":955.7,"v":86.6},{"t":960.7,"v":-43.8},{"t":967,"v":-86.6},{"t":976.5,"v":-95.2},{"t":979,"v":-71.7},{"t":985.6,"v":49.3},{"t":991,"v":64.2},{"t":994,"v":2.8},{"t":998,"v":-53.1},{"t":1001,"v":-63.3},{"t":1004,"v":-43.8},{"t":1010.5,"v":77.3},{"t":1014.6,"v":89.8},{"t":1017,"v":77.3},{"t":1023,"v":-71.7},{"t":1031,"v":-95.9},{"t":1051,"v":-99.6},{"t":1054,"v":-43.8},{"t":1062,"v":86.6},{"t":1068.5,"v":96.8},{"t":1089,"v":100.4},{"t":1093,"v":12.1},{"t":1101,"v":-86.6},{"t":1108,"v":-96.8},{"t":1117,"v":-98.3},{"t":1122,"v":12.1},{"t":1128.6,"v":69.8},{"t":1132.8,"v":86.6},{"t":1141,"v":98.7},{"t":1152.7,"v":100.4},{"t":1155.6,"v":30.7},{"t":1164.7,"v":-82.9},{"t":1176,"v":-94},{"t":1180,"v":-62.4},{"t":1186.7,"v":68},{"t":1193,"v":95},{"t":1203,"v":97.8},{"t":1206,"v":30.7},{"t":1211.5,"v":-71.7},{"t":1217.8,"v":-95.9},{"t":1228,"v":-98.3},{"t":1230.4,"v":-86.6},{"t":1236.6,"v":12.1},{"t":1242.8,"v":86.6},{"t":1251,"v":97.8},{"t":1269,"v":100},{"t":1273,"v":-6.5},{"t":1281.4,"v":-70.8},{"t":1284,"v":-6.5},{"t":1288.4,"v":68},{"t":1294.6,"v":85.1},{"t":1298.8,"v":-6.5},{"t":1307,"v":-81},{"t":1314.5,"v":-95},{"t":1339.4,"v":-100},{"t":1342,"v":-43.8},{"t":1346.5,"v":49.3},{"t":1351,"v":75},{"t":1353.5,"v":12.1},{"t":1359,"v":-86.6},{"t":1367,"v":-93.7},{"t":1370,"v":-6.5},{"t":1375.5,"v":77.3},{"t":1383.8,"v":98.1},{"t":1397.4,"v":100},{"t":1402.4,"v":-6.5},{"t":1410.7,"v":-88.5},{"t":1419,"v":-98.3},{"t":1446.8,"v":-100.2},{"t":1452,"v":40},{"t":1457,"v":92.2},{"t":1468.8,"v":99.6},{"t":1477,"v":100},{"t":1482,"v":-25.1},{"t":1489.5,"v":-88.5},{"t":1502.8,"v":-97.4},{"t":1506,"v":-25.1},{"t":1512.3,"v":68},{"t":1518.5,"v":86.2},{"t":1522,"v":49.3},{"t":1526.8,"v":-6.5},{"t":1531,"v":-36.9},{"t":1534,"v":-6.5},{"t":1539,"v":58.7},{"t":1551,"v":92.9},{"t":1553.8,"v":49.3},{"t":1560.8,"v":-26.6},{"t":1564,"v":58.7},{"t":1568,"v":94},{"t":1572.4,"v":96.8},{"t":1575.7,"v":77.3},{"t":1580.7,"v":-43.8},{"t":1587,"v":-95},{"t":1606.8,"v":-99.6},{"t":1611.8,"v":12.1},{"t":1618,"v":93.1},{"t":1628.4,"v":99.1},{"t":1633.4,"v":98.1},{"t":1638.7,"v":12.1},{"t":1645,"v":-71.7},{"t":1653,"v":-92.2},{"t":1662.8,"v":-96.3},{"t":1667.8,"v":30.7},{"t":1674.8,"v":82.9},{"t":1678,"v":12.1},{"t":1687.7,"v":-90.3},{"t":1696.8,"v":-97.8},{"t":1701,"v":-62.4},{"t":1707,"v":77.3},{"t":1715.5,"v":95.9},{"t":1723.7,"v":97.2},{"t":1726.6,"v":30.7},{"t":1734,"v":-68},{"t":1742.4,"v":-95.9},{"t":1763,"v":-99.3},{"t":1767,"v":-6.5},{"t":1775.6,"v":92.2},{"t":1786,"v":96.8},{"t":1794,"v":100},{"t":1799,"v":100.4}],
"flags":[{"t":87,"v":124.3,"k":"red"},{"t":143,"v":124.3,"k":"red"},{"t":207,"v":124.3,"k":"red"},{"t":267,"v":124.3,"k":"red"},{"t":275,"v":124.3,"k":"red"},{"t":497,"v":124.3,"k":"red"},{"t":614,"v":124.3,"k":"red"},{"t":682,"v":124.3,"k":"red"},{"t":738,"v":124.3,"k":"red"},{"t":942,"v":124.3,"k":"red"},{"t":1070,"v":124.3,"k":"red"},{"t":1143,"v":124.3,"k":"red"},{"t":1196,"v":124.3,"k":"red"},{"t":1718,"v":124.3,"k":"red"},{"t":1786,"v":124.3,"k":"red"},{"t":9,"v":124.3,"k":"orange"},{"t":1394,"v":124.3,"k":"orange"},{"t":1571,"v":124.3,"k":"orange"},{"t":1622,"v":124.3,"k":"orange"},{"t":234,"v":-122.5,"k":"orange"},{"t":345,"v":-122.5,"k":"orange"},{"t":407,"v":-122.5,"k":"orange"},{"t":477,"v":-122.5,"k":"orange"},{"t":537,"v":-122.5,"k":"orange"},{"t":643.5,"v":-122.5,"k":"orange"},{"t":709,"v":-122.5,"k":"orange"},{"t":840,"v":-122.5,"k":"orange"},{"t":904,"v":-122.5,"k":"orange"},{"t":1048.5,"v":-122.5,"k":"orange"},{"t":1108,"v":-122.5,"k":"orange"},{"t":1225,"v":-122.5,"k":"orange"},{"t":1692,"v":-122.5,"k":"orange"},{"t":1315,"v":-122.5,"k":"lime"},{"t":1415,"v":-122.5,"k":"lime"},{"t":1496,"v":-122.5,"k":"lime"},{"t":1590,"v":-122.5,"k":"lime"}]
},
"vconcat":[
{"width":2447,"height":620,
"encoding":{"x":{"field":"t","type":"quantitative","scale":{"domain":[0,2447],"nice":false,"zero":false},"axis":null},
"y":{"field":"v","type":"quantitative","scale":{"domain":[68360,72638],"nice":false,"zero":false},"axis":{"orient":"right","offset":-173,"values":[72000,71000,69000],"title":null,"ticks":false,"grid":false,"domainColor":"#23262d","domainWidth":2,"labelColor":"#f5f5f5","labelFont":"Liberation Sans","labelFontSize":35,"labelPadding":22,"labelBound":false,"labelFlush":false,"labelOverlap":false,"labelExpr":"replace(replace(format(datum.value,',.1f'),',','\u2009'),'.',',')"}}},
"resolve":{"scale":{"fill":"independent","color":"independent","shape":"independent","size":"independent"}},
"layer":[
{"data":{"name":"boxesTop"},"mark":{"type":"rect","stroke":"#ffffff","strokeWidth":2.5,"clip":true},"encoding":{"x2":{"field":"t2"},"y2":{"field":"v2"},"fill":{"field":"k","type":"nominal","scale":{"domain":["bear","bull"],"range":["#420204","#2c4f11"]},"legend":null}}},
{"data":{"name":"lastPrice"},"mark":{"type":"rule","color":"#7d808a","strokeWidth":1.5,"strokeDash":[2,4]},"encoding":{"x2":{"field":"t2"}}},
{"data":{"name":"cursorTop"},"mark":{"type":"rule","color":"#e0922e","strokeWidth":1.5,"strokeDash":[10,12]},"encoding":{"y2":{"field":"v2"}}},
{"data":{"name":"price"},"mark":{"type":"area","color":"#787b86","fillOpacity":0.7,"clip":true},"encoding":{"y2":{"field":"h"}}},
{"data":{"name":"price"},"mark":{"type":"rule","color":"#787b86","strokeWidth":2.5,"clip":true},"encoding":{"y2":{"field":"h"}}},
{"data":{"name":"arrows"},"mark":{"type":"point","filled":true,"opacity":1,"clip":true,"size":1849},"encoding":{"shape":{"field":"d","type":"nominal","scale":{"domain":["down","up"],"range":["M-0.46,-1L0.46,-1L0.46,-0.08L0.88,-0.08L0,1L-0.88,-0.08L-0.46,-0.08Z","M-0.46,1L0.46,1L0.46,0.08L0.88,0.08L0,-1L-0.88,0.08L-0.46,0.08Z"]},"legend":null},"color":{"field":"k","type":"nominal","scale":{"domain":["sell","weak","brown","buy","strong"],"range":["#e00e0e","#d95f1e","#99581a","#7cae2a","#96fd38"]},"legend":null}}},
{"data":{"name":"rings"},"mark":{"type":"point","filled":false,"opacity":1,"strokeWidth":3,"shape":"circle","clip":true},"encoding":{"size":{"field":"r","type":"nominal","scale":{"type":"ordinal","domain":["xs","s","m","l","xl"],"range":[30,72,132,256,289]},"legend":null},"color":{"field":"k","type":"nominal","scale":{"domain":["o","y"],"range":["#e79a2c","#c6e82e"]},"legend":null}}},
{"data":{"name":"blueDots"},"mark":{"type":"point","filled":true,"opacity":1,"shape":"circle","size":440,"color":"#000000"}},
{"data":{"name":"blueDots"},"mark":{"type":"point","filled":true,"opacity":1,"shape":"circle","size":170,"fill":"#000000","stroke":"#2850e0","strokeWidth":3}},
{"data":{"name":"ink"},"mark":{"type":"line","color":"#7ffdf7","strokeWidth":3.5,"interpolate":"cardinal","clip":true},"encoding":{"detail":{"field":"s"},"order":{"field":"i","type":"quantitative"}}},
{"data":{"name":"curl"},"mark":{"type":"line","color":"#d8d8d8","strokeWidth":1.5,"interpolate":"cardinal","clip":true},"encoding":{"order":{"field":"i","type":"quantitative"}}},
{"data":{"name":"usdBox"},"mark":{"type":"rect","fill":"#111111","stroke":"#3a3d44","strokeWidth":2,"cornerRadius":6,"clip":true},"encoding":{"x2":{"field":"t2"},"y2":{"field":"v2"}}},
{"data":{"name":"usdText"},"mark":{"type":"text","align":"left","baseline":"alphabetic","color":"#c8c8c8","font":"Liberation Sans","fontSize":22,"clip":true},"encoding":{"text":{"field":"label"}}},
{"data":{"name":"priceTag"},"mark":{"type":"rect","fill":"#787b86","cornerRadius":3},"encoding":{"x2":{"field":"t2"},"y2":{"field":"v2"}}},
{"data":{"name":"tagPrice"},"mark":{"type":"text","align":"left","baseline":"middle","color":"#ffffff","font":"Liberation Sans","fontSize":35},"encoding":{"text":{"field":"label"}}},
{"data":{"name":"tagTime"},"mark":{"type":"text","align":"left","baseline":"middle","color":"#d4d6dc","font":"Liberation Sans","fontSize":35},"encoding":{"text":{"field":"label"}}}
]},
{"width":2447,"height":570,
"encoding":{"x":{"field":"t","type":"quantitative","scale":{"domain":[0,2447],"nice":false,"zero":false},"axis":null},
"y":{"field":"v","type":"quantitative","scale":{"domain":[-153.6,164.8],"nice":false,"zero":false},"axis":{"orient":"right","offset":-173,"values":[150,50,-50,-150],"title":null,"ticks":false,"grid":false,"domainColor":"#23262d","domainWidth":2,"labelColor":"#f5f5f5","labelFont":"Liberation Sans","labelFontSize":35,"labelPadding":22,"labelBound":false,"labelFlush":false,"labelOverlap":false,"labelExpr":"replace(format(datum.value,'.1f'),'.',',')"}}},
"resolve":{"scale":{"fill":"independent","color":"independent"}},
"layer":[
{"data":{"name":"boxesBot"},"mark":{"type":"rect"},"encoding":{"x2":{"field":"t2"},"y2":{"field":"v2"},"fill":{"field":"k","type":"nominal","scale":{"domain":["bear","bull"],"range":["#420204","#2c4f11"]},"legend":null}}},
{"data":{"name":"bands"},"mark":{"type":"rect","opacity":0.4},"encoding":{"x2":{"field":"t2"},"y2":{"field":"v2"},"fill":{"field":"k","type":"nominal","scale":{"domain":["upper","lower"],"range":["#aa0a00","#6fbb22"]},"legend":null}}},
{"data":{"name":"midLine"},"mark":{"type":"rule","color":"#9f8c92","strokeWidth":1.5,"strokeDash":[10,11]},"encoding":{"x2":{"field":"t2"}}},
{"data":{"name":"sepLine"},"mark":{"type":"rule","color":"#33363d","strokeWidth":2},"encoding":{"x2":{"field":"t2"}}},
{"data":{"name":"heat"},"transform":[{"lookup":"k","from":{"data":{"name":"heatLane"},"key":"k","fields":["v","v2"]}}],"mark":{"type":"rect"},"encoding":{"x2":{"field":"t2"},"y2":{"field":"v2"},"fill":{"field":"k","type":"nominal","scale":{"domain":["y","o","u","b","c","l","g"],"range":["#f9f230","#e4670f","#7a5210","#72270a","#7f1d20","#4a5a12","#7ab35c"]},"legend":null}}},
{"data":{"name":"flow"},"transform":[{"lookup":"k","from":{"data":{"name":"flowLane"},"key":"k","fields":["v","v2"]}}],"mark":{"type":"rect"},"encoding":{"x2":{"field":"t2"},"y2":{"field":"v2"},"fill":{"field":"k","type":"nominal","scale":{"domain":["b","m","p","n","d","r","g","o"],"range":["#0000ff","#dd00f5","#3c0050","#00004e","#2d4a25","#d0364a","#7ab35c","#e08a1a"]},"legend":null}}},
{"data":{"name":"boxesBot"},"mark":{"type":"rect","fillOpacity":0,"fill":"#000000","stroke":"#ffffff","strokeWidth":2.5},"encoding":{"x2":{"field":"t2"},"y2":{"field":"v2"}}},
{"data":{"name":"signal"},"mark":{"type":"line","color":"#cfcfcf","strokeWidth":1.6,"strokeDash":[12,10]}},
{"data":{"name":"osc"},"mark":{"type":"line","color":"#e00000","strokeWidth":2.2,"interpolate":"monotone"}},
{"data":{"name":"cursorBot"},"mark":{"type":"rule","color":"#e0922e","strokeWidth":1.5,"strokeDash":[10,12]},"encoding":{"y2":{"field":"v2"}}},
{"data":{"name":"flags"},"mark":{"type":"point","filled":true,"opacity":1,"size":1225,"clip":true,"shape":"M-1.08,1L-1.08,-0.72L-0.62,-0.75C-0.45,-1,-0.3,-1,-0.1,-0.85C0.2,-0.68,0.6,-0.6,1.08,-0.85L1.08,0.05C1.08,0.32,0.8,0.36,0.45,0.24C0.1,0.1,-0.2,-0.1,-0.62,-0.03L-0.62,1Z"},"encoding":{"color":{"field":"k","type":"nominal","scale":{"domain":["red","orange","lime"],"range":["#e00000","#e58a1a","#9cfd38"]},"legend":null}}}
]}
]}
